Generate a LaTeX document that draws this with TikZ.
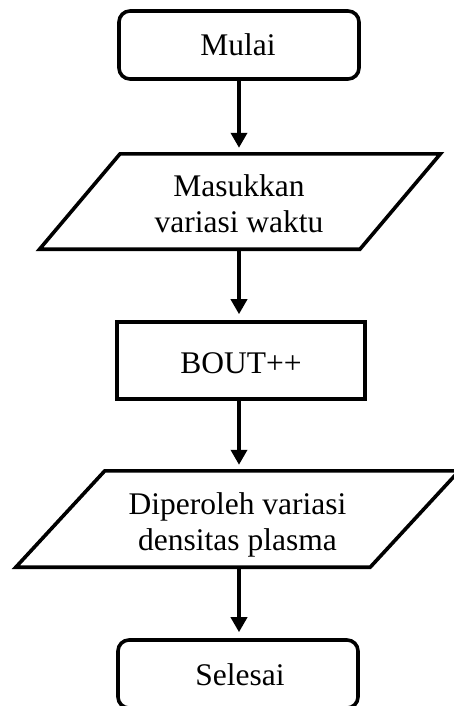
\documentclass[tikz,border=0pt]{standalone}
\usepackage{fontspec}
\setmainfont{Liberation Serif}
\usetikzlibrary{arrows.meta}

\begin{document}
\begin{tikzpicture}[x=1pt,y=-1pt,
  line/.style={line width=3.6pt},
  term/.style={line, draw, rounded corners=11pt, minimum width=240pt, minimum height=68pt, inner sep=0pt},
  proc/.style={line, draw, minimum width=248pt, minimum height=77pt, inner sep=0pt},
  iobox/.style={minimum height=95pt, inner sep=0pt},
  lbl/.style={font=\fontsize{31.5}{36}\selectfont, inner sep=0pt, anchor=base},
  arr/.style={line, -{Triangle[length=15pt,width=16pt]}, shorten >=6pt},
]
\useasboundingbox (0,0) rectangle (454,706);
\fill[white] (0,0) rectangle (454,706);
\clip (0,0) rectangle (454,706);

% shapes
\node[term] (start) at (239,45) {};
\node[iobox, minimum width=320pt] (input) at (240,201.5) {};
\node[proc] (bout) at (241,360.5) {};
\node[iobox, minimum width=354pt, minimum height=96pt] (output) at (237.5,519) {};
\node[term] (stop) at (238,674) {};

% parallelogram outlines for the input/output steps
\draw[line] ([xshift=-40.25pt]input.south west) -- ([xshift=40.25pt]input.north west)
  -- ([xshift=40.25pt]input.north east) -- ([xshift=-40.25pt]input.south east) -- cycle;
\draw[line] ([xshift=-44.5pt]output.south west) -- ([xshift=44.5pt]output.north west)
  -- ([xshift=44.5pt]output.north east) -- ([xshift=-44.5pt]output.south east) -- cycle;

% labels
\node[lbl] (tstart) at (238,56) {Mulai};
\node[lbl] (tin1) at (239,196) {Masukkan};
\node[lbl] (tin2) at (239,232) {variasi waktu};
\node[lbl] (tbout) at (241,373) {BOUT++};
\node[lbl] (tout1) at (237.5,514) {Diperoleh variasi};
\node[lbl] (tout2) at (237.5,550) {densitas plasma};
\node[lbl] (tstop) at (240,685) {Selesai};

% connectors
\draw[arr] (start.south) -- (start.south |- input.north);
\draw[arr] (start.south |- input.south) -- (start.south |- bout.north);
\draw[arr] (start.south |- bout.south) -- (start.south |- output.north);
\draw[arr] (start.south |- output.south) -- (start.south |- stop.north);
\end{tikzpicture}
\end{document}
